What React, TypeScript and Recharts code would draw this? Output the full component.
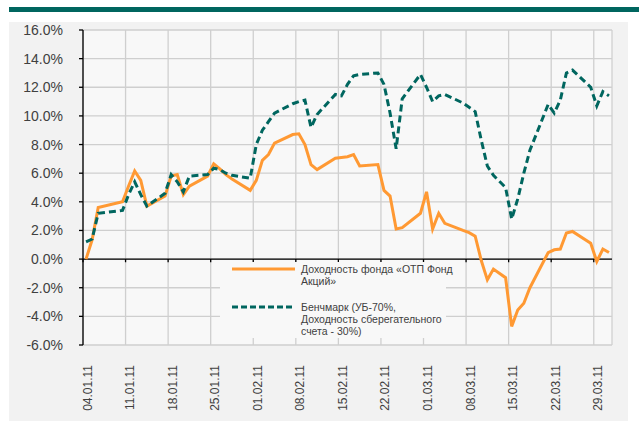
import React from "react";
import { LineChart, Line, XAxis, YAxis, CartesianGrid, ReferenceLine, Legend } from "recharts";

// trading days
const dates = [
    "04.01.11", "05.01.11", "06.01.11", "10.01.11", "11.01.11", "12.01.11", "13.01.11", "14.01.11",
    "17.01.11", "18.01.11", "19.01.11", "20.01.11", "21.01.11",
    "24.01.11", "25.01.11", "26.01.11", "27.01.11", "28.01.11",
    "31.01.11", "01.02.11", "02.02.11", "03.02.11", "04.02.11",
    "07.02.11", "08.02.11", "09.02.11", "10.02.11", "11.02.11",
    "14.02.11", "15.02.11", "16.02.11", "17.02.11", "18.02.11",
    "21.02.11", "22.02.11", "23.02.11", "24.02.11", "25.02.11",
    "28.02.11", "01.03.11", "02.03.11", "03.03.11", "04.03.11",
    "07.03.11", "08.03.11", "09.03.11", "10.03.11", "11.03.11", "12.03.11",
    "14.03.11", "15.03.11", "16.03.11", "17.03.11", "18.03.11",
    "21.03.11", "22.03.11", "23.03.11", "24.03.11", "25.03.11",
    "28.03.11", "29.03.11", "30.03.11", "31.03.11",
];

// Доходность фонда «ОТП Фонд Акций», %
const fund = [
    0.0, 1.35, 3.6, 4.0, 5.1, 6.15, 5.5, 3.7,
    4.4, 5.8, 5.9, 4.5, 5.1,
    5.8, 6.65, 6.3, 5.9, 5.6,
    4.8, 5.5, 6.9, 7.3, 8.1,
    8.7, 8.75, 8.0, 6.6, 6.25,
    7.05, 7.1, 7.15, 7.3, 6.5,
    6.6, 4.8, 4.4, 2.1, 2.2,
    3.2, 4.7, 2.1, 3.2, 2.5,
    2.0, 1.85, 1.6, -0.1, -1.45, -0.7,
    -1.3, -4.7, -3.55, -3.08, -2.0,
    0.45, 0.65, 0.7, 1.82, 1.93,
    1.1, -0.17, 0.7, 0.46,
];

// Бенчмарк (УБ-70%, сберегательный счет - 30%), %
const bench = [
    1.2, 1.4, 3.2, 3.4, 4.5, 5.4, 4.5, 3.7,
    4.6, 5.9, 5.4, 4.7, 5.8,
    5.9, 6.35, 6.25, 6.0, 5.85,
    5.65, 8.0, 9.0, 9.6, 10.2,
    10.85, 11.0, 11.1, 9.2, 10.1,
    11.5, 11.4, 12.2, 12.8, 12.9,
    13.0, 12.2, 10.2, 7.7, 11.2,
    12.9, 12.0, 11.0, 11.4, 11.5,
    10.9, 10.6, 10.3, 8.3, 6.5, 5.85,
    5.0, 2.8, 4.2, 6.0, 7.6,
    10.8, 10.2, 11.1, 13.0, 13.2,
    12.0, 10.7, 11.7, 11.4,
];

const xTickLabels = [
    "04.01.11", "11.01.11", "18.01.11", "25.01.11", "01.02.11", "08.02.11", "15.02.11",
    "22.02.11", "01.03.11", "08.03.11", "15.03.11", "22.03.11", "29.03.11",
];
const yTicks = [-6, -4, -2, 0, 2, 4, 6, 8, 10, 12, 14, 16];

const FONT = "'Liberation Sans', Arial, sans-serif";
const ORANGE = "#ff9933";
const TEAL = "#00665f";

// days since 04.01.11
const dayOf = (s: string) => {
    const [d, m, y] = s.split(".").map(Number);
    return (Date.UTC(2000 + y, m - 1, d) - Date.UTC(2011, 0, 4)) / 86400000;
};

const chartData = dates.map((d, i) => ({
    date: d,
    x: dayOf(d) + 0.5,
    fund: fund[i],
    bench: bench[i],
}));

const xTicks = xTickLabels.map(dayOf);
const labelByDay: Record<number, string> = {};
xTickLabels.forEach((l) => (labelByDay[dayOf(l)] = l));

const DateTick = ({ x, payload }: any) => (
    <text
        transform={`translate(${x + 8.5},365) rotate(-90)`}
        textAnchor="end"
        fontSize={12}
        fontFamily={FONT}
        fill="#404040"
    >
        {labelByDay[payload.value]}
    </text>
);

const LegendBox = () => (
    <div style={{ fontFamily: FONT, fontSize: 10.5, color: "#404040", lineHeight: "12px", position: "relative", width: 226, height: 76 }}>
        <svg width={64} height={6} style={{ position: "absolute", left: 12, top: 4 }}>
            <line x1={0} y1={3} x2={63} y2={3} stroke={ORANGE} strokeWidth={3} />
        </svg>
        <div style={{ position: "absolute", left: 81, top: 1, whiteSpace: "nowrap" }}>
            Доходность фонда «ОТП Фонд
            <br />
            Акций»
        </div>
        <svg width={64} height={6} style={{ position: "absolute", left: 12, top: 42 }}>
            <line x1={0} y1={3} x2={62} y2={3} stroke={TEAL} strokeWidth={3} strokeDasharray="6 3" />
        </svg>
        <div style={{ position: "absolute", left: 81, top: 39, whiteSpace: "nowrap" }}>
            Бенчмарк (УБ-70%,
            <br />
            Доходность сберегательного
            <br />
            счета - 30%)
        </div>
    </div>
);

export default function App() {
    return (
        <div style={{ position: "absolute", left: 0, top: 0, width: 639, height: 421, background: "#fff" }}>
            <div style={{ position: "absolute", left: 9, top: 7, width: 630, height: 5, background: TEAL }} />
            <div style={{ position: "absolute", left: 9, top: 22, width: 619, height: 399, background: "#f2f2f2" }} />
            <div style={{ position: "absolute", left: 0, top: 0 }}>
                <LineChart
                    width={639}
                    height={421}
                    data={chartData}
                    margin={{ top: 30, right: 27, bottom: 0, left: 0 }}
                >
                    <CartesianGrid fill="#f8f8f8" stroke="#cfcfcf" strokeWidth={1.3} />
                    <XAxis
                        dataKey="x"
                        type="number"
                        domain={[0, 87]}
                        ticks={xTicks}
                        interval={0}
                        axisLine={false}
                        tickLine={false}
                        height={76}
                        tick={<DateTick />}
                    />
                    <YAxis
                        type="number"
                        domain={[-6, 16]}
                        ticks={yTicks}
                        interval={0}
                        width={83}
                        tickSize={4}
                        tickMargin={16}
                        axisLine={{ stroke: "#000", strokeWidth: 1.3 }}
                        tickLine={{ stroke: "#000", strokeWidth: 1.3 }}
                        tick={{ fill: "#404040", fontSize: 14, fontFamily: FONT }}
                        tickFormatter={(v: number) => `${v.toFixed(1)}%`}
                    />
                    <ReferenceLine y={0} stroke="#000" strokeWidth={1.3} />
                    {xTicks.map((t) => (
                        <ReferenceLine
                            key={t}
                            segment={[{ x: t, y: 0 }, { x: t, y: -0.22 }]}
                            stroke="#000"
                            strokeWidth={1.3}
                        />
                    ))}
                    <Legend
                        layout="horizontal"
                        verticalAlign="middle"
                        align="center"
                        content={<LegendBox />}
                        wrapperStyle={{ left: 220, top: 262, width: 226, height: 76, background: "#f8f8f8" }}
                    />
                    <Line
                        type="linear"
                        dataKey="fund"
                        name="Доходность фонда «ОТП Фонд Акций»"
                        stroke={ORANGE}
                        strokeWidth={3}
                        dot={false}
                        isAnimationActive={false}
                    />
                    <Line
                        type="linear"
                        dataKey="bench"
                        name="Бенчмарк (УБ-70%, Доходность сберегательного счета - 30%)"
                        stroke={TEAL}
                        strokeWidth={3}
                        strokeDasharray="7 4"
                        dot={false}
                        isAnimationActive={false}
                    />
                </LineChart>
            </div>
        </div>
    );
}
